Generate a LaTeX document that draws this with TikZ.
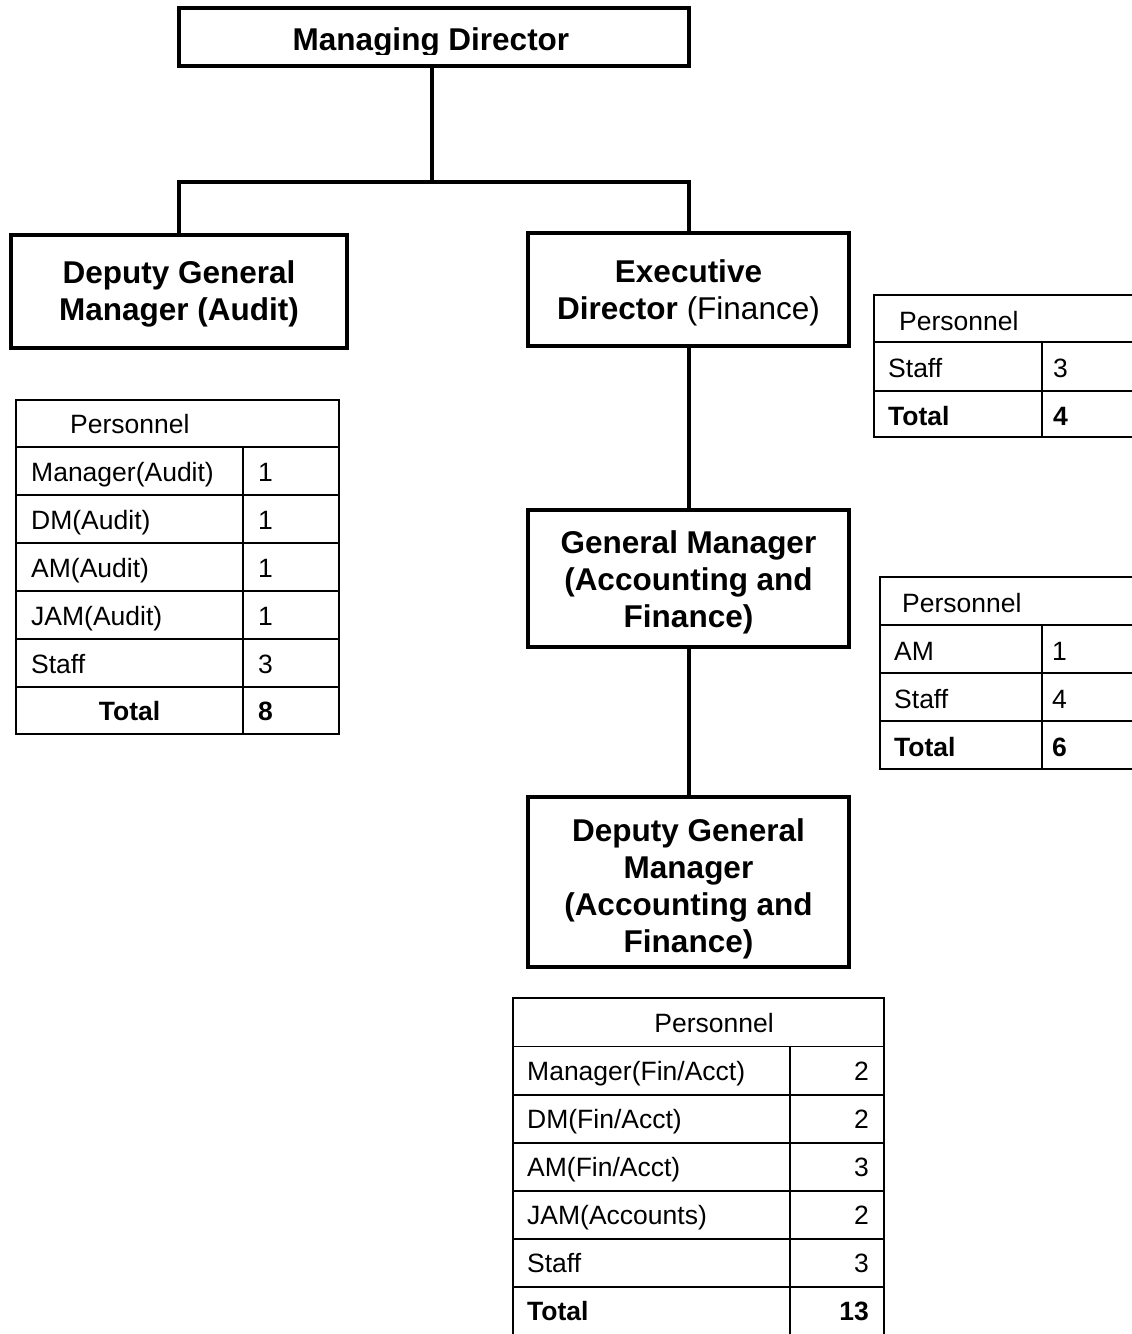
\documentclass[tikz,border=0pt]{standalone}
\usepackage{fontspec}
\setmainfont{Liberation Sans}
\begin{document}
\begin{tikzpicture}[x=1pt,y=-1pt,
  orgbox/.style={draw, line width=4pt, inner sep=0pt},
  boxtext/.style={inner sep=0pt, align=center, font=\fontsize{31.5}{37}\selectfont\bfseries},
  conn/.style={line width=4pt},
  tline/.style={line width=1.8pt},
  cell/.style={anchor=base west, inner sep=0pt, font=\fontsize{26.5}{30}\selectfont},
  bcell/.style={cell, font=\fontsize{26.5}{30}\selectfont\bfseries},
]
\useasboundingbox (0,0) rectangle (1132,1334);
\fill[white] (0,0) rectangle (1132,1334);

% ---------- org boxes ----------
\node[orgbox, minimum width=510pt, minimum height=58pt] (md) at (434,37) {};
\begin{scope}
  \clip (182,10) rectangle (686,54);
  \node[boxtext, anchor=base] (mdt) at (431,50) {Managing Director};
\end{scope}

\node[orgbox, minimum width=336pt, minimum height=113pt] (dgma) at (179,291.5) {};
\node[boxtext, yshift=-2pt] (dgmat) at (dgma) {Deputy General\\Manager (Audit)};
\node[orgbox, minimum width=321pt, minimum height=113pt] (ed) at (688.5,289.5) {};
\node[boxtext, yshift=-3pt] (edt) at (ed) {Executive\\Director {\mdseries (Finance)}};
\node[orgbox, minimum width=321pt, minimum height=137pt] (gm) at (688.5,578.5) {};
\node[boxtext, yshift=-4pt] (gmt) at (gm) {General Manager\\(Accounting and\\Finance)};
\node[orgbox, minimum width=321pt, minimum height=170pt] (dgm) at (688.5,882) {};
\node[boxtext, yshift=-6.5pt] (dgmt) at (dgm) {Deputy General\\Manager\\(Accounting and\\Finance)};

% ---------- connectors ----------
\coordinate (j) at (432,182);
\draw[conn] (md.south -| j) -- (j);
\draw[conn] (dgma.north) |- (j) -| (ed.north);
\draw[conn] (ed.south) -- (gm.north);
\draw[conn] (gm.south) -- (dgm.north);

% ---------- table: audit ----------
\draw[tline] (16,400) rectangle (339,734);
\foreach \yy in {447,495,543,591,639,687} \draw[tline] (16,\yy) -- (339,\yy);
\draw[tline] (243,447) -- (243,734);
\node[cell] (a0) at (70,433.5) {Personnel};
\node[cell] (a1) at (31,481) {Manager(Audit)};
\node[cell] (a1n) at (258,481) {1};
\node[cell] (a2) at (31,529) {DM(Audit)};
\node[cell] (a2n) at (258,529) {1};
\node[cell] (a3) at (31,577) {AM(Audit)};
\node[cell] (a3n) at (258,577) {1};
\node[cell] (a4) at (31,625) {JAM(Audit)};
\node[cell] (a4n) at (258,625) {1};
\node[cell] (a5) at (31,673) {Staff};
\node[cell] (a5n) at (258,673) {3};
\node[bcell, anchor=base] (a6) at (129.5,720.5) {Total};
\node[bcell] (a6n) at (258,720.5) {8};

% ---------- table: executive director ----------
\draw[tline] (1132,295) -- (874,295) -- (874,437) -- (1132,437);
\foreach \yy in {342,391} \draw[tline] (874,\yy) -- (1132,\yy);
\draw[tline] (1042,342) -- (1042,437);
\node[cell] (e0) at (899,330) {Personnel};
\node[cell] (e1) at (888,377.5) {Staff};
\node[cell] (e1n) at (1053,377.5) {3};
\node[bcell] (e2) at (888,425) {Total};
\node[bcell] (e2n) at (1053,425) {4};

% ---------- table: general manager ----------
\draw[tline] (1132,577) -- (880,577) -- (880,769) -- (1132,769);
\foreach \yy in {625,673,721} \draw[tline] (880,\yy) -- (1132,\yy);
\draw[tline] (1042,625) -- (1042,769);
\node[cell] (g0) at (902,612) {Personnel};
\node[cell] (g1) at (894,660) {AM};
\node[cell] (g1n) at (1052,660) {1};
\node[cell] (g2) at (894,708) {Staff};
\node[cell] (g2n) at (1052,708) {4};
\node[bcell] (g3) at (894,756) {Total};
\node[bcell] (g3n) at (1052,756) {6};

% ---------- table: deputy general manager ----------
\draw[tline] (513,1334) -- (513,998) -- (884,998) -- (884,1334);
\foreach \yy in {1046.5,1095,1143,1191,1239,1287} \draw[tline] (513,\yy) -- (884,\yy);
\draw[tline] (790,1046.5) -- (790,1334);
\node[cell, anchor=base] (d0) at (714,1032) {Personnel};
\node[cell] (d1) at (527,1080.5) {Manager(Fin/Acct)};
\node[cell, anchor=base east] (d1n) at (869,1080.5) {2};
\node[cell] (d2) at (527,1128.5) {DM(Fin/Acct)};
\node[cell, anchor=base east] (d2n) at (869,1128.5) {2};
\node[cell] (d3) at (527,1176.5) {AM(Fin/Acct)};
\node[cell, anchor=base east] (d3n) at (869,1176.5) {3};
\node[cell] (d4) at (527,1224.5) {JAM(Accounts)};
\node[cell, anchor=base east] (d4n) at (869,1224.5) {2};
\node[cell] (d5) at (527,1272.5) {Staff};
\node[cell, anchor=base east] (d5n) at (869,1272.5) {3};
\node[bcell] (d6) at (527,1320) {Total};
\node[bcell, anchor=base east] (d6n) at (869,1320) {13};
\end{tikzpicture}
\end{document}
